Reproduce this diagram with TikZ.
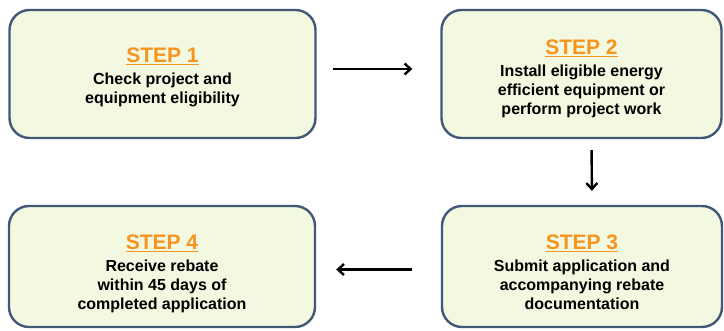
\documentclass[tikz,border=0pt]{standalone}
\usepackage{fontspec}
\setmainfont{Liberation Sans}
\usetikzlibrary{arrows.meta}
\definecolor{boxfill}{RGB}{243,248,224}
\definecolor{boxline}{RGB}{66,88,118}
\definecolor{steporange}{RGB}{247,148,30}
\tikzset{
  stepbox/.style={draw=boxline,line width=2.4pt,fill=boxfill,rounded corners=20pt,inner sep=0pt},
  steptext/.style={align=center,font=\fontsize{16}{19}\selectfont\bfseries,inner sep=0pt},
  wide/.style={minimum width=306pt},
  narrow/.style={minimum width=280pt},
  flow/.style={->,line width=2.4pt}
}
\newcommand{\steptitle}[1]{{\fontsize{21}{24}\selectfont\color{steporange}\underline{#1}}\\[3pt]}
\begin{document}
\begin{tikzpicture}[x=1pt,y=-1pt,>={Straight Barb[length=6pt,width=11pt]}]
\useasboundingbox (0,0) rectangle (724,330);
\node[stepbox,wide,minimum height=128pt] (s1) at (162.5,74) {};
\node[stepbox,narrow,minimum height=128pt] (s2) at (581.5,74) {};
\node[stepbox,narrow,minimum height=121pt] (s3) at (582,266.5) {};
\node[stepbox,wide,minimum height=121pt] (s4) at (162,266.5) {};
\node[steptext] (t1) at ([yshift=-3pt]s1.center) {\steptitle{STEP 1}Check project and\\equipment eligibility};
\node[steptext] (t2) at ([yshift=-5pt]s2.center) {\steptitle{STEP 2}Install eligible energy\\efficient equipment or\\perform project work};
\node[steptext] (t3) at ([yshift=-6pt]s3.center) {\steptitle{STEP 3}Submit application and\\accompanying rebate\\documentation};
\node[steptext] (t4) at ([yshift=-7pt]s4.center) {\steptitle{STEP 4}Receive rebate\\within 45 days of\\completed application};
\draw[flow,shorten <=16pt,shorten >=28pt] ([yshift=5pt]s1.east) -- ([yshift=5pt]s2.west);
\draw[flow,shorten <=11pt,shorten >=14pt] ([xshift=10pt]s2.south) -- ([xshift=10pt]s3.north);
\draw[flow,shorten <=29pt,shorten >=20pt] ([yshift=-3pt]s3.west) -- ([yshift=-3pt]s4.east);
\end{tikzpicture}
\end{document}
